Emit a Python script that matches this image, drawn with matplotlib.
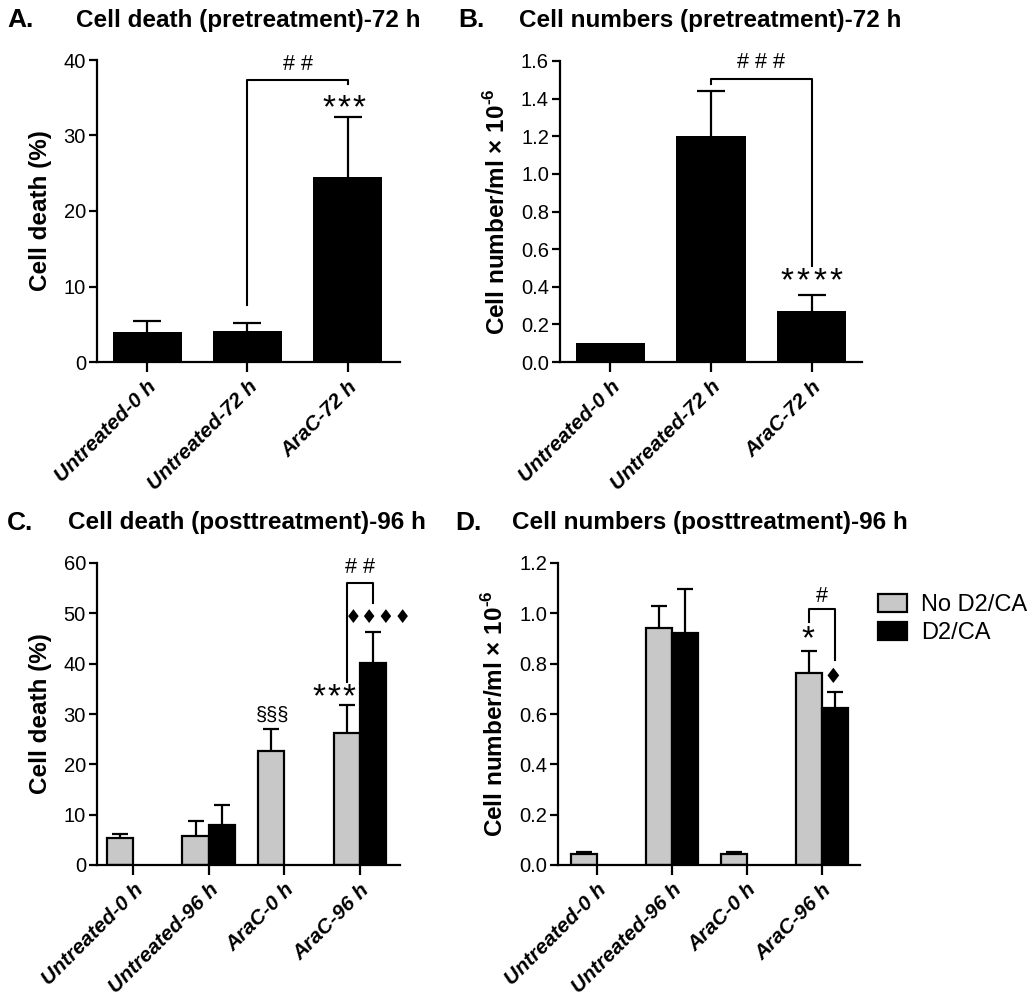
import numpy as np
import matplotlib
matplotlib.use("Agg")
import matplotlib.pyplot as plt
from matplotlib.patches import Patch
from matplotlib.transforms import offset_copy

plt.rcParams['font.family'] = ['Liberation Sans', 'DejaVu Sans']
plt.rcParams['mathtext.fontset'] = 'custom'
plt.rcParams['mathtext.rm'] = 'Liberation Sans:bold'
plt.rcParams['mathtext.bf'] = 'Liberation Sans:bold'

# panel A / B (pretreatment, 72 h)
pre_labels = ["Untreated-0 h", "Untreated-72 h", "AraC-72 h"]
pre_death = [4.0, 4.1, 24.5]
pre_death_err = [1.4, 1.1, 7.9]
pre_count = [0.103, 1.20, 0.27]
pre_count_err = [np.nan, 0.24, 0.085]

# panel C / D (posttreatment, 96 h)
post_labels = ["Untreated-0 h", "Untreated-96 h", "AraC-0 h", "AraC-96 h"]
post_death_no = [5.3, 5.8, 22.7, 26.2]
post_death_no_err = [0.8, 3.0, 4.3, 5.6]
post_death_d2 = [np.nan, 8.0, np.nan, 40.2]
post_death_d2_err = [np.nan, 3.9, np.nan, 6.1]
post_count_no = [0.043, 0.94, 0.045, 0.763]
post_count_no_err = [0.009, 0.09, 0.008, 0.088]
post_count_d2 = [np.nan, 0.923, np.nan, 0.623]
post_count_d2_err = [np.nan, 0.172, np.nan, 0.064]

GREY = "#c8c8c8"
W, H = 1035, 999
fig = plt.figure(figsize=(W / 100, H / 100), dpi=100)
COUNT_LABEL = r"Cell number/ml × 10$^{\text{-6}}$"


def px_axes(l, r, t, b):
    return fig.add_axes([l / W, 1 - b / H, (r - l) / W, (b - t) / H])


def style(ax, labels, ylabel, ylim, yticks, yfmt):
    for s in ["top", "right"]:
        ax.spines[s].set_visible(False)
    for s in ["left", "bottom"]:
        ax.spines[s].set_linewidth(1.6)
    ax.set_ylim(*ylim)
    ax.set_yticks(yticks)
    ax.set_yticklabels([yfmt.format(v) for v in yticks], fontsize=14.5)
    ax.set_xticks(range(len(labels)))
    ax.set_xticklabels(labels, rotation=45, ha="right", rotation_mode="anchor",
                       fontsize=15, fontweight="bold", fontstyle="italic")
    ax.tick_params(axis="y", length=6, width=1.6, pad=2)
    ax.tick_params(axis="x", length=7, width=1.6, pad=4)
    ax.set_ylabel(ylabel, fontsize=17.5, fontweight="bold", labelpad=8)


def bracket(ax, x1, x2, y1, ytop, y2, text, ty, fs=15.5):
    ax.plot([x1, x1, x2, x2], [y1, ytop, ytop, y2], color="black", lw=1.5,
            clip_on=False)
    ax.text((x1 + x2) / 2, ty, text, ha="center", va="center", fontsize=fs)


def marks(ax, x, y, ch, n, step, fs):
    # repeated asterisks, step in points
    for i in range(n):
        tr = offset_copy(ax.transData, fig=fig, x=(i - (n - 1) / 2) * step, y=0,
                         units="points")
        ax.text(x, y, ch, ha="center", va="center", fontsize=fs, transform=tr)


def upper_err(ax, x, y, e, cap):
    eb = ax.errorbar(x, y, yerr=[np.zeros(len(e)), e], fmt="none", ecolor="black",
                     elinewidth=1.6, capsize=cap, capthick=1.6, zorder=1)
    eb[1][0].set_visible(False)  # hide the lower cap


# ---- A
axA = px_axes(97, 400, 60, 362)
xA = np.arange(len(pre_labels))
upper_err(axA, xA, pre_death, pre_death_err, 10)
axA.bar(xA, pre_death, width=0.69, color="black", zorder=2)
axA.set_xlim(-0.5, 2.52)
style(axA, pre_labels, "Cell death (%)", (0, 40), [0, 10, 20, 30, 40], "{:g}")
bracket(axA, 1, 2, 7.5, 37.3, 36.8, "# #", 39.4)
marks(axA, 1.96, 33.6, "*", 3, 10.8, 24)

# ---- B
axB = px_axes(560, 862, 61, 362)
upper_err(axB, xA, pre_count, pre_count_err, 10)
axB.bar(xA, pre_count, width=0.69, color="black", zorder=2)
axB.set_xlim(-0.5, 2.5)
style(axB, pre_labels, COUNT_LABEL, (0, 1.6),
      [0, 0.2, 0.4, 0.6, 0.8, 1.0, 1.2, 1.4, 1.6], "{:.1f}")
bracket(axB, 1, 2, 1.48, 1.505, 0.51, "# # #", 1.59)
marks(axB, 2, 0.425, "*", 4, 11.8, 24)

# ---- C
axC = px_axes(97, 400, 563, 865)
xC = np.arange(len(post_labels))
bw = 0.35
upper_err(axC, xC - bw / 2, post_death_no, post_death_no_err, 6)
upper_err(axC, xC + bw / 2, post_death_d2, post_death_d2_err, 6)
axC.bar(xC - bw / 2, post_death_no, width=bw, color=GREY, edgecolor="black",
        linewidth=1.6, zorder=2)
axC.bar(xC + bw / 2, post_death_d2, width=bw, color="black", edgecolor="black",
        linewidth=1.6, zorder=2)
axC.set_xlim(-0.48, 3.53)
style(axC, post_labels, "Cell death (%)", (0, 60), [0, 10, 20, 30, 40, 50, 60], "{:g}")
bracket(axC, 3 - bw / 2, 3 + bw / 2, 36.4, 56.1, 52.1, "# #", 59.2)
marks(axC, 2.65, 33.2, "*", 3, 10.8, 24)
axC.text(3.24, 49.1, "\u2666\u2666\u2666\u2666", ha="center", va="center",
         fontsize=13.5, family="DejaVu Sans")
axC.text(1.84, 29.8, "\u00a7\u00a7\u00a7", ha="center", va="center", fontsize=14.5)

# ---- D
axD = px_axes(558, 860, 563, 865)
upper_err(axD, xC - bw / 2, post_count_no, post_count_no_err, 6)
upper_err(axD, xC + bw / 2, post_count_d2, post_count_d2_err, 6)
axD.bar(xC - bw / 2, post_count_no, width=bw, color=GREY, edgecolor="black",
        linewidth=1.6, zorder=2)
axD.bar(xC + bw / 2, post_count_d2, width=bw, color="black", edgecolor="black",
        linewidth=1.6, zorder=2)
axD.set_xlim(-0.52, 3.51)
style(axD, post_labels, COUNT_LABEL, (0, 1.2),
      [0, 0.2, 0.4, 0.6, 0.8, 1.0, 1.2], "{:.1f}")
bracket(axD, 3 - bw / 2, 3 + bw / 2, 0.967, 1.017, 0.814, "#", 1.066)
marks(axD, 2.81, 0.895, "*", 1, 0, 24)
axD.text(3.15, 0.748, "\u2666", ha="center", va="center", fontsize=15,
         family="DejaVu Sans")

fig.legend(handles=[Patch(facecolor=GREY, edgecolor="black", linewidth=1.6, label="No D2/CA"),
                    Patch(facecolor="black", edgecolor="black", linewidth=1.6, label="D2/CA")],
           loc="upper left", bbox_to_anchor=(878 / W, 1 - 594 / H), frameon=False,
           fontsize=17, handlelength=1.23, handleheight=0.8, handletextpad=0.6,
           labelspacing=0.25, borderpad=0, borderaxespad=0)

# titles and panel letters
for x, y, t in [(248, 20, "Cell death (pretreatment)-72 h"),
                (710, 20, "Cell numbers (pretreatment)-72 h"),
                (247, 523, "Cell death (posttreatment)-96 h"),
                (710, 523, "Cell numbers (posttreatment)-96 h")]:
    fig.text(x / W, 1 - y / H, t, ha="center", va="center", fontsize=17.5,
             fontweight="bold")
for x, y, t in [(21, 20, "A."), (471, 20, "B."), (20, 523, "C."), (468, 523, "D.")]:
    fig.text(x / W, 1 - y / H, t, ha="center", va="center", fontsize=19,
             fontweight="bold")

fig.savefig("out.png", dpi=100)
